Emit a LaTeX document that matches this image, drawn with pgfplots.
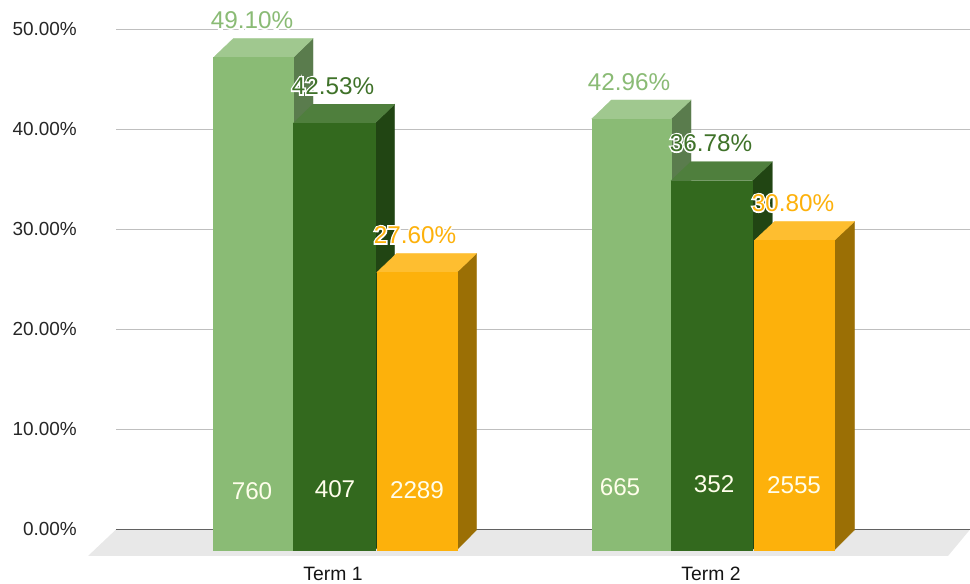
\documentclass[border=0pt]{standalone}
\usepackage{fontspec}
\setmainfont{Liberation Sans}
\usepackage{pgfplots}
\pgfplotsset{compat=1.18}
\definecolor{lf}{HTML}{8ABB75}\definecolor{lt}{HTML}{A0C88F}\definecolor{ls}{HTML}{5A7C4D}
\definecolor{df}{HTML}{33691E}\definecolor{dt}{HTML}{4F7F3D}\definecolor{ds}{HTML}{214513}
\definecolor{of}{HTML}{FDB10B}\definecolor{ot}{HTML}{FEBE30}\definecolor{os}{HTML}{9B6F05}
\definecolor{dl}{HTML}{3F7229}
\newfontfamily\halofont[FakeBold=12]{Liberation Sans}
\newcommand{\lab}[4]{%
\node[font=\halofont\fontsize{18.2pt}{20pt}\selectfont,text=white,inner sep=0pt] at (axis cs:#1,#2) {#4};
\node[font=\fontsize{18.2pt}{20pt}\selectfont,text=#3,inner sep=0pt] at (axis cs:#1,#2) {#4};}
\newcommand{\inn}[3]{\node[font=\fontsize{18.2pt}{20pt}\selectfont,text=white!92!yellow,inner sep=0pt] at (axis cs:#1,#2) {#3};}
\begin{document}
\begin{tikzpicture}
\path[use as bounding box] (0,0) rectangle (727.5pt,438pt);
\begin{axis}[
  at={(87pt,40.875pt)}, anchor=south west,
  scale only axis, width=640.5pt, height=375pt,
  xmin=116, xmax=970, ymin=0, ymax=50,
  clip=false,
  axis x line=bottom, axis y line=left,
  x axis line style={draw=none},
  y axis line style={draw=none},
  ymajorgrids, grid style={draw=black!25,line width=0.7pt},
  major tick length=0pt,
  ytick={0,10,20,30,40,50},
  yticklabels={0.00\%,10.00\%,20.00\%,30.00\%,40.00\%,50.00\%},
  xtick={333,711}, xticklabels={Term 1,Term 2},
  yticklabel style={font=\fontsize{14.2pt}{16pt}\selectfont,text=black!85,anchor=east,inner sep=0pt,xshift=-29.25pt,yshift=0.4pt},
  xticklabel style={font=\fontsize{14.5pt}{16pt}\selectfont,text=black!92,anchor=center,inner sep=0pt,yshift=-33.6pt},
  every axis plot/.append style={line width=0.2pt},
]
% floor and baseline
\addplot[fill=black!9,draw=none] coordinates {(116,0)(970,0)(948,-2.65)(88,-2.65)} -- cycle;
\addplot[draw=black!62,line width=0.8pt] coordinates {(116,0)(970,0)};
% Term 1, first bar
\addplot[fill=ls,draw=ls] coordinates {(293.3,-2.05)(313,-0.05)(313,49.1)(293.3,47.2)} -- cycle;
\addplot[fill=lt,draw=lt] coordinates {(213.5,47.2)(293.3,47.2)(313,49.1)(233.3,49.1)} -- cycle;
\addplot[fill=lf,draw=lf] coordinates {(213.5,-2.05)(293.3,-2.05)(293.3,47.2)(213.5,47.2)} -- cycle;
% Term 1, second bar
\addplot[fill=ds,draw=ds] coordinates {(375,-2.05)(394.7,-0.05)(394.7,42.53)(375,40.63)} -- cycle;
\addplot[fill=dt,draw=dt] coordinates {(293.3,40.63)(375,40.63)(394.7,42.53)(313,42.53)} -- cycle;
\addplot[fill=df,draw=df] coordinates {(293.3,-2.05)(375,-2.05)(375,40.63)(293.3,40.63)} -- cycle;
% Term 1, third bar
\addplot[fill=os,draw=os] coordinates {(456.7,-2.05)(476.5,-0.05)(476.5,27.6)(456.7,25.7)} -- cycle;
\addplot[fill=ot,draw=ot] coordinates {(376.7,25.7)(456.7,25.7)(476.5,27.6)(396.5,27.6)} -- cycle;
\addplot[fill=of,draw=of] coordinates {(376.7,-2.05)(456.7,-2.05)(456.7,25.7)(376.7,25.7)} -- cycle;
% Term 2, first bar
\addplot[fill=ls,draw=ls] coordinates {(671,-2.05)(691,-0.05)(691,42.96)(671,41.06)} -- cycle;
\addplot[fill=lt,draw=lt] coordinates {(591.7,41.06)(671,41.06)(691,42.96)(611.5,42.96)} -- cycle;
\addplot[fill=lf,draw=lf] coordinates {(591.7,-2.05)(671,-2.05)(671,41.06)(591.7,41.06)} -- cycle;
% Term 2, second bar
\addplot[fill=ds,draw=ds] coordinates {(752.3,-2.05)(772.3,-0.05)(772.3,36.78)(752.3,34.88)} -- cycle;
\addplot[fill=dt,draw=dt] coordinates {(671,34.88)(752.3,34.88)(772.3,36.78)(691,36.78)} -- cycle;
\addplot[fill=df,draw=df] coordinates {(671,-2.05)(752.3,-2.05)(752.3,34.88)(671,34.88)} -- cycle;
% Term 2, third bar
\addplot[fill=os,draw=os] coordinates {(834.3,-2.05)(854.5,-0.05)(854.5,30.8)(834.3,28.9)} -- cycle;
\addplot[fill=ot,draw=ot] coordinates {(754.3,28.9)(834.3,28.9)(854.5,30.8)(774.5,30.8)} -- cycle;
\addplot[fill=of,draw=of] coordinates {(754.3,-2.05)(834.3,-2.05)(834.3,28.9)(754.3,28.9)} -- cycle;
% value labels (pixel row -> percent: (529.5-row)/10)
\lab{252}{50.95}{lf}{49.10\%}
\lab{333}{44.35}{dl}{42.53\%}
\lab{415}{29.45}{of}{27.60\%}
\lab{629}{44.75}{lf}{42.96\%}
\lab{711}{38.65}{dl}{36.78\%}
\lab{793}{32.65}{of}{30.80\%}
\inn{252}{3.85}{760}
\inn{335}{4.05}{407}
\inn{417}{3.95}{2289}
\inn{620}{4.25}{665}
\inn{714}{4.55}{352}
\inn{794}{4.45}{2555}
\end{axis}
\end{tikzpicture}
\end{document}
